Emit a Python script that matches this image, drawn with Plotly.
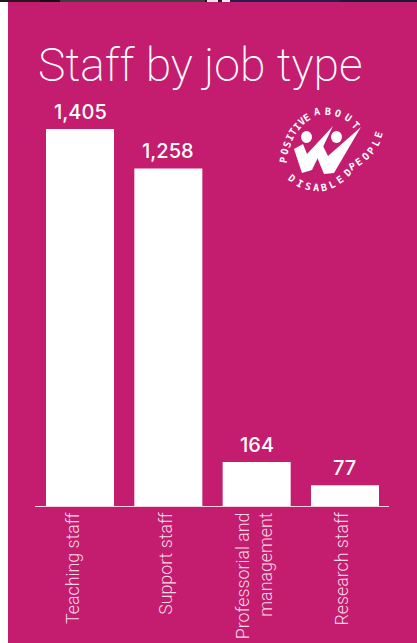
#!/usr/bin/env python
import numpy as np
import plotly.graph_objects as go

# chart data
categories = ["Teaching staff", "Support staff", "Professorial and<br>management", "Research staff"]
staff = [1405, 1258, 164, 77]
label_shift = [-8, -3, -3, -3]

# colours
pink = "#C41C6E"
strip_colours = ["#2A1420", "#141018", "#3A3F44", "#151520", "#E8E8E8", "#20202C", "#F0F0F0", "#2A1A50", "#1C1838"]
strip_edges = [0, 40, 60, 205, 207, 218, 222, 230, 340, 417]

W, H = 417, 643
plot_l, plot_r, plot_t, plot_b = 35, 389, 100, 506


def px(x):
    # page pixels to paper coords
    return (x - plot_l) / (plot_r - plot_l)


def py(y):
    return (plot_b - y) / (plot_b - plot_t)


def poly(points):
    return "M " + " L ".join(f"{px(x):.4f},{py(y):.4f}" for x, y in points) + " Z"


def arc_letters(word, start, ctrl, end):
    # one annotation per letter along a small bezier, for the round logo
    anns = []
    n = len(word)
    for i, ch in enumerate(word):
        t = i / (n - 1)
        x = (1 - t) ** 2 * start[0] + 2 * t * (1 - t) * ctrl[0] + t ** 2 * end[0]
        y = (1 - t) ** 2 * start[1] + 2 * t * (1 - t) * ctrl[1] + t ** 2 * end[1]
        dx = 2 * (1 - t) * (ctrl[0] - start[0]) + 2 * t * (end[0] - ctrl[0])
        dy = 2 * (1 - t) * (ctrl[1] - start[1]) + 2 * t * (end[1] - ctrl[1])
        anns.append(dict(
            text=ch, xref="paper", yref="paper", x=px(x), y=py(y),
            xanchor="center", yanchor="middle",
            showarrow=False, textangle=float(np.degrees(np.arctan2(dy, dx))),
            font=dict(family="DejaVu Sans Mono", size=10, color="white", weight=700),
        ))
    return anns


fig = go.Figure(go.Bar(
    x=[0, 1, 2, 3],
    y=staff,
    width=0.77,
    marker=dict(color="white", line=dict(width=0)),
    hoverinfo="skip",
))

annotations = [dict(
    text="Staff by job type", xref="paper", yref="paper",
    x=px(36), y=py(65), xanchor="left", yanchor="middle", showarrow=False,
    font=dict(family="Roboto", size=46.3, color="white", weight=200),
)]

for i, cat in enumerate(categories):
    annotations.append(dict(
        text=cat, x=i, y=0, xref="x", yref="y", yanchor="top", xanchor="center",
        yshift=-4, xshift=label_shift[i], textangle=-90, align="right",
        showarrow=False,
        font=dict(family="Roboto", size=17.8, color="#F6D9E6", weight=300),
    ))

# value labels sit higher above the bars than textposition="outside" allows
for i, v in enumerate(staff):
    annotations.append(dict(
        text=f"{v:,}", x=i, y=v, xref="x", yref="y", yanchor="bottom", xanchor="center",
        yshift=3, showarrow=False,
        font=dict(family="Inter", size=20, color="white", weight=500),
    ))

annotations += arc_letters("POSITIVE", (283, 160), (288, 130), (307, 118))
annotations += arc_letters("ABOUT", (317, 112), (340, 108), (356, 125))
annotations += arc_letters("PEOPLE", (352, 166), (372, 157), (379, 135))
annotations += arc_letters("DISABLED", (292, 178), (320, 200), (348, 173))

shapes = [
    dict(type="rect", xref="paper", yref="paper", x0=px(0), x1=px(8), y0=py(H), y1=py(2),
         fillcolor="white", line_width=0, layer="below"),
    # logo ticks and heads
    dict(type="path", xref="paper", yref="paper", fillcolor="white", line_width=0,
         path=poly([(294, 149), (303, 144), (307, 154), (333, 126), (312, 170), (302, 173)])),
    dict(type="path", xref="paper", yref="paper", fillcolor="white", line_width=0,
         path=poly([(314, 150), (323, 146), (328, 156), (361, 127), (334, 173), (324, 174)])),
    dict(type="circle", xref="paper", yref="paper", fillcolor="white", line_width=0,
         x0=px(301), x1=px(312), y0=py(143), y1=py(131)),
    dict(type="circle", xref="paper", yref="paper", fillcolor="white", line_width=0,
         x0=px(331), x1=px(342), y0=py(143), y1=py(131)),
]
# dark photo edge along the top of the page
for c, a, b in zip(strip_colours, strip_edges[:-1], strip_edges[1:]):
    shapes.append(dict(type="rect", xref="paper", yref="paper", x0=px(a), x1=px(b), y0=py(2), y1=py(0),
                       fillcolor=c, line_width=0, layer="below"))

fig.update_layout(
    width=W, height=H,
    margin=dict(l=plot_l, r=W - plot_r, t=plot_t, b=H - plot_b, pad=0, autoexpand=False),
    paper_bgcolor=pink,
    plot_bgcolor=pink,
    showlegend=False,
    annotations=annotations,
    shapes=shapes,
    xaxis=dict(range=[-0.5095, 3.4982], showgrid=False, zeroline=False, showticklabels=False,
               ticks="", showline=True, linecolor="#F3D3E2", linewidth=1),
    yaxis=dict(range=[0, 406 / 0.2683], visible=False, showgrid=False, zeroline=False),
)

# page margin would push the figure off by 8px
fig.write_html("out.html", config=dict(displayModeBar=False),
               post_script="document.body.style.margin='0';document.body.style.overflow='hidden';")
